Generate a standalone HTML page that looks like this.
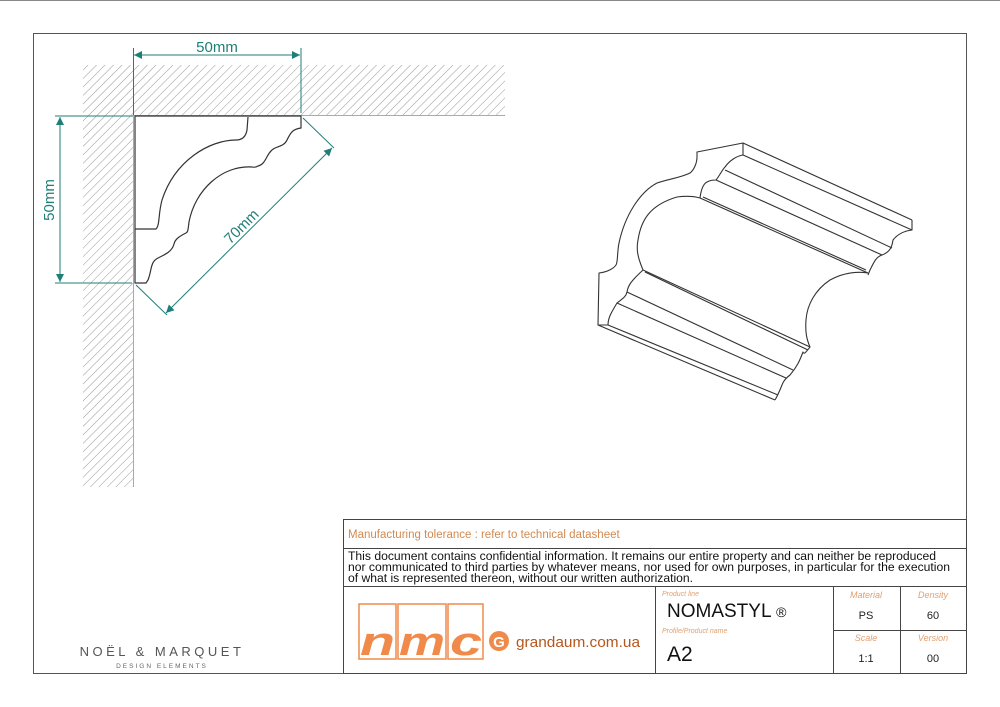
<!DOCTYPE html>
<html><head><meta charset="utf-8"><style>
html,body{margin:0;padding:0;background:#fff;}
svg{display:block;}
text{font-family:"Liberation Sans",sans-serif;}
</style></head><body>
<svg width="1000" height="707" viewBox="0 0 1000 707" xmlns="http://www.w3.org/2000/svg">
<defs>
<pattern id="h" patternUnits="userSpaceOnUse" width="6" height="6" patternTransform="rotate(45)">
<line x1="0" y1="0" x2="0" y2="6" stroke="#999" stroke-width="1"/>
</pattern>
<marker id="a" viewBox="0 0 10 10" refX="10" refY="5" markerWidth="10" markerHeight="8" markerUnits="userSpaceOnUse" orient="auto-start-reverse"><path d="M0,0 L10,5 L0,10 z" fill="#1f7f78"/></marker>
</defs>
<rect x="0" y="0" width="1000" height="707" fill="#fff"/>
<line x1="0" y1="0.5" x2="1000" y2="0.5" stroke="#888"/>
<rect x="33.5" y="33.5" width="933" height="640" fill="none" stroke="#555" stroke-width="1"/>

<!-- hatching -->
<rect x="83" y="65" width="422" height="50" fill="url(#h)"/>
<rect x="83" y="115" width="50" height="372" fill="url(#h)"/>
<rect x="134" y="116" width="166" height="167" fill="#fff"/>
<line x1="133" y1="115.5" x2="505" y2="115.5" stroke="#aaa"/>
<line x1="133.5" y1="115" x2="133.5" y2="487" stroke="#aaa"/>

<!-- profile -->
<path d="M135,116 L301,116 L301,128 C292,129 290,134 287,140 C284,147 276,146 272,150 C266,155 266,164 258,166 C255,168 253,167 252,167 C222,165 195,190 189,222 C188,230 188,232 186,233 C180,236 175,239 174,244 C172,252 164,255 158,258 C150,262 152,270 148,280 L146,283 L135,283 Z M135,283 L135,229 L156,229 C160,225 158,215 162,200 C175,160 210,140 236,140 C243,140 246,136 247,130 L248,117" fill="#fff" stroke="#333" stroke-width="1.2"/>

<!-- dimensions -->
<g stroke="#1f7f78" stroke-width="1" fill="none">
<line x1="133.5" y1="48" x2="133.5" y2="115"/>
<line x1="301" y1="48" x2="301" y2="113"/>
<line x1="134" y1="55" x2="300" y2="55" marker-start="url(#a)" marker-end="url(#a)"/>
<line x1="55" y1="116" x2="133" y2="116"/>
<line x1="55" y1="283" x2="132" y2="283"/>
<line x1="60" y1="117" x2="60" y2="282" marker-start="url(#a)" marker-end="url(#a)"/>
<line x1="136" y1="285" x2="167" y2="315"/>
<line x1="303" y1="118" x2="334" y2="148"/>
<line x1="166" y1="313" x2="332" y2="148" marker-start="url(#a)" marker-end="url(#a)"/>
</g>
<text x="217" y="52" font-size="15" fill="#1f7f78" text-anchor="middle">50mm</text>
<text transform="translate(54,200) rotate(-90)" font-size="15" fill="#1f7f78" text-anchor="middle">50mm</text>
<text transform="translate(245,230) rotate(-45)" font-size="15" fill="#1f7f78" text-anchor="middle">70mm</text>

<!-- 3D profile -->
<g fill="none" stroke="#333" stroke-width="1.1" stroke-linejoin="round">
<!-- front face -->
<path d="M743,143 L697,152 L697,157 C697,163 694,170 690,173 C680,178 668,179 657,183 C640,192 625,215 619,243 C617,253 618,262 616,265 C614,268 608,272 599,273 L598,325 L608,325 C608,318 611,313 617,303 C622,299 626,297 627,292 C628,286 630,282 643,270 C638,258 636,250 638,240 C641,220 650,205 677,197 C685,196 693,196 700,198 C701,190 703,184 707,182 C711,180 713,180 716,180 C720,175 722,170 725,167 C730,160 737,156 743,155 Z"/>
<!-- back profile -->
<path d="M912,220 L912,230 C903,231 897,235 893,240 C892,247 890,252 882,255 C876,257 874,262 870,270 L868,275 M868,273 C855,271 843,273 830,280 C815,290 807,305 806,320 C805,333 807,340 810,347 C806,352 804,355 803,352 C800,360 797,367 790,375 C786,378 783,382 782,385 C780,390 778,395 775,400"/>
<!-- long edges -->
<path d="M743,143 L912,220"/>
<path d="M743,155 L912,230"/>
<path d="M725,170 L892,248"/>
<path d="M716,180 L882,255"/>
<path d="M700,198 L868,273"/>
<path d="M703,197 L866,270"/>
<path d="M643,270 L810,347"/>
<path d="M645,272 L808,350"/>
<path d="M627,292 L793,370"/>
<path d="M617,303 L786,378"/>
<path d="M608,325 L778,395"/>
<path d="M598,325 L775,400"/>
</g>

<!-- title block -->
<g stroke="#444" stroke-width="1" fill="none">
<rect x="343.5" y="519.5" width="623" height="154"/>
<line x1="343" y1="548.5" x2="967" y2="548.5"/>
<line x1="343" y1="586.5" x2="967" y2="586.5"/>
<line x1="655.5" y1="586" x2="655.5" y2="673"/>
<line x1="833.5" y1="586" x2="833.5" y2="673"/>
<line x1="900.5" y1="586" x2="900.5" y2="673"/>
<line x1="833" y1="630.5" x2="967" y2="630.5"/>
</g>
<text x="348" y="538" font-size="11.5" fill="#d4884e">Manufacturing tolerance : refer to technical datasheet</text>
<text font-size="12.2" fill="#111"><tspan x="348" y="560" textLength="588" lengthAdjust="spacingAndGlyphs">This document contains confidential information. It remains our entire property and can neither be reproduced</tspan><tspan x="348" y="571" textLength="602" lengthAdjust="spacingAndGlyphs">nor communicated to third parties by whatever means, nor used for own purposes, in particular for the execution</tspan><tspan x="348" y="582" textLength="345" lengthAdjust="spacingAndGlyphs">of what is represented thereon, without our written authorization.</tspan></text>
<text x="662" y="596" font-size="7" font-style="italic" fill="#e0a070">Product line</text>
<text x="667" y="617" font-size="19" fill="#111">NOMASTYL <tspan font-size="14">®</tspan></text>
<text x="662" y="633" font-size="7" font-style="italic" fill="#e0a070">Profile/Product name</text>
<text x="667" y="661" font-size="21" fill="#111">A2</text>
<text x="866" y="598" font-size="9" font-style="italic" fill="#e0a070" text-anchor="middle">Material</text>
<text x="933" y="598" font-size="9" font-style="italic" fill="#e0a070" text-anchor="middle">Density</text>
<text x="866" y="619" font-size="11" fill="#222" text-anchor="middle">PS</text>
<text x="933" y="619" font-size="11" fill="#222" text-anchor="middle">60</text>
<text x="866" y="641" font-size="9" font-style="italic" fill="#e0a070" text-anchor="middle">Scale</text>
<text x="933" y="641" font-size="9" font-style="italic" fill="#e0a070" text-anchor="middle">Version</text>
<text x="866" y="662" font-size="11" fill="#222" text-anchor="middle">1:1</text>
<text x="933" y="662" font-size="11" fill="#222" text-anchor="middle">00</text>

<!-- logo -->
<g stroke="#f08a4b" stroke-width="1.5" fill="none">
<rect x="359" y="604" width="37" height="55"/>
<rect x="398" y="604" width="48" height="55"/>
<rect x="448" y="604" width="35" height="55"/>
</g>
<text x="360" y="655" font-size="40" font-weight="bold" font-style="italic" fill="#f08a4b" textLength="35" lengthAdjust="spacingAndGlyphs">n</text>
<text x="399" y="655" font-size="40" font-weight="bold" font-style="italic" fill="#f08a4b" textLength="46" lengthAdjust="spacingAndGlyphs">m</text>
<text x="450" y="655" font-size="40" font-weight="bold" font-style="italic" fill="#f08a4b" textLength="32" lengthAdjust="spacingAndGlyphs">c</text>
<circle cx="499" cy="641" r="10" fill="#f08a4b"/>
<text x="499" y="647" font-size="15" font-weight="bold" fill="#fff" text-anchor="middle">G</text>
<text x="516" y="647" font-size="15" fill="#b5561c" font-family="DejaVu Sans" textLength="124" lengthAdjust="spacingAndGlyphs">grandaum.com.ua</text>

<text x="162" y="656" font-size="13" fill="#555" text-anchor="middle" letter-spacing="3.5">NOËL &amp; MARQUET</text>
<text x="162" y="668" font-size="6.5" fill="#666" text-anchor="middle" letter-spacing="2">DESIGN ELEMENTS</text>
</svg>
</body></html>
